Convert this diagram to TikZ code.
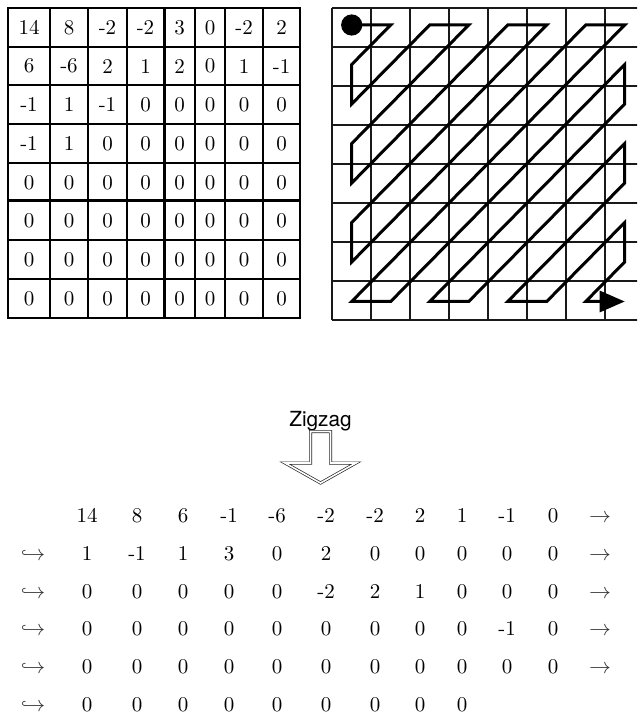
\documentclass[tikz,border=0pt]{standalone}
\usepackage{fontspec}
\newfontfamily\zzfont{TeX Gyre Heros}
\usetikzlibrary{calc, positioning}
\usetikzlibrary{arrows.meta}

\begin{document}
\begin{tikzpicture}[x=0.5pt,y=-0.5pt,
  cell/.style={inner sep=0pt, font=\fontsize{10.5}{12}\selectfont},
  seq/.style={inner sep=0pt, anchor=base, font=\fontsize{10.5}{12}\selectfont},
  gridline/.style={line width=1pt},
  thinline/.style={line width=0.8pt, black!90},
  zzpath/.style={line width=1.5pt, line join=miter},
  hollow/.style={draw=black!85, line width=0.35pt, double=white, double distance=0.8pt}]
\useasboundingbox (0,0) rectangle (637,715);
\foreach \x in {50,88,127,195,225,263} \draw[gridline] (\x,8) -- (\x,318);
\draw[line width=1.5pt] (164,8) -- (164,318);
\foreach \y in {47,85,124,163,240,279} \draw[gridline] (8,\y) -- (300,\y);
\draw[line width=1.5pt] (8,201) -- (300,201);
\draw[line width=1.4pt] (8,8) rectangle (300,318);
\foreach \row [count=\r] in {{14,8,-2,-2,3,0,-2,2},{6,-6,2,1,2,0,1,-1},{-1,1,-1,0,0,0,0,0},{-1,1,0,0,0,0,0,0},
  {0,0,0,0,0,0,0,0},{0,0,0,0,0,0,0,0},{0,0,0,0,0,0,0,0},{0,0,0,0,0,0,0,0}}
  \foreach \v [count=\c] in \row {
    \pgfmathsetmacro\cx{{29,69,107.5,145.5,179.5,210,244,281.5}[\c-1]}
    \pgfmathsetmacro\cy{27.5+38.7*(\r-1)}
    \node[cell] (m-\r-\c) at (\cx,\cy) {\v};
  }
\begin{scope}
\clip (320,0) rectangle (637,330);
\foreach \i in {0,...,8} \draw[thinline] ({331.7+39*\i},8.3) -- ({331.7+39*\i},320);
\foreach \j in {0,...,8} \draw[thinline] (331.7,{8.3+38.95*\j}) -- (645,{8.3+38.95*\j});
\end{scope}
\begin{scope}[shift={(351.7,25)},x=19.5pt,y=-19.75pt]
\fill (0,0) circle[radius=5.3pt];
\draw[zzpath,-{Triangle[length=12.5pt,width=10.5pt]}] (0,0) -- (1,0) -- (0,1) -- (0,2) -- (2,0) -- (3,0) -- (0,3) -- (0,4)
  -- (4,0) -- (5,0) -- (0,5) -- (0,6) -- (6,0) -- (7,0) -- (0,7) -- (1,7) -- (7,1) -- (7,2) -- (2,7) -- (3,7)
  -- (7,3) -- (7,4) -- (4,7) -- (5,7) -- (7,5) -- (7,6) -- (6,7) -- (7,7);
\end{scope}
\node[anchor=base, inner sep=0pt, font=\zzfont\fontsize{10.4}{12}\selectfont] (zzlabel) at (320.5,426.7) {Zigzag};
\draw[hollow] (310.5,431.5) -- (310.5,463) -- (285,463) -- (320.5,483) -- (356,463) -- (330.5,463) -- (330.5,431.5) -- cycle;
\foreach \row [count=\r] in {{14,8,6,-1,-6,-2,-2,2,1,-1,0},{1,-1,1,3,0,2,0,0,0,0,0},{0,0,0,0,0,-2,2,1,0,0,0},
  {0,0,0,0,0,0,0,0,0,-1,0},{0,0,0,0,0,0,0,0,0,0,0},{0,0,0,0,0,0,0,0,0}} {
  \pgfmathsetmacro\by{522.5+37.8*(\r-1)}
  \foreach \v [count=\c] in \row {
    \pgfmathsetmacro\bx{{87,137,183,229,277,326,375,420,462,507,553}[\c-1]}
    \node[seq] (s-\r-\c) at (\bx,\by) {\v};
  }
  \ifnum\r>1 \node[seq, black!80] (h-\r) at (33,\by) {$\hookrightarrow$}; \fi
  \ifnum\r<6 \node[seq, black!80] (a-\r) at (600,\by) {$\rightarrow$}; \fi
}
\end{tikzpicture}
\end{document}
